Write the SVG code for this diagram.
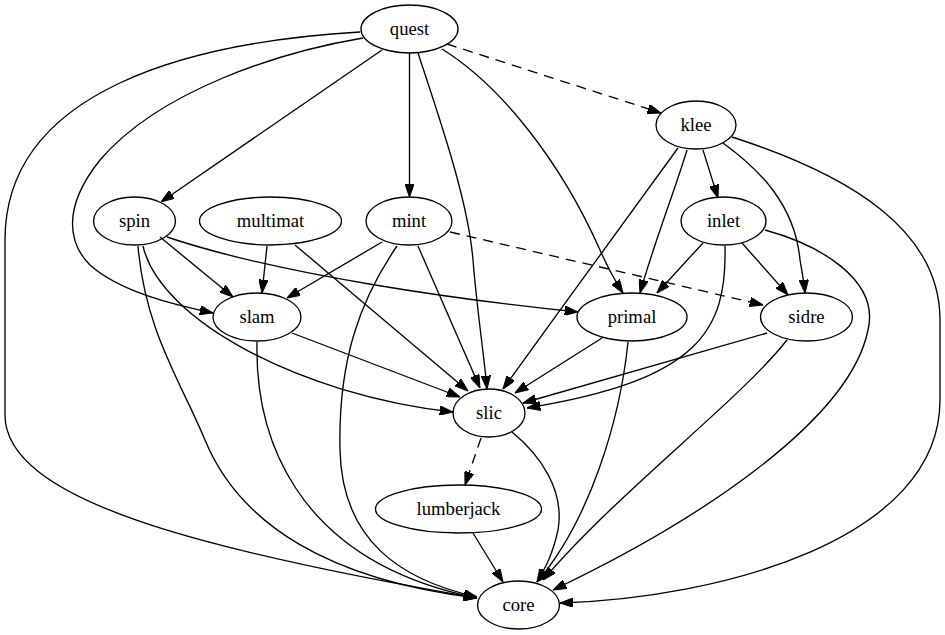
<svg xmlns="http://www.w3.org/2000/svg" width="945" height="635" viewBox="0 0 945 635">
<style>
.n ellipse{fill:none;stroke:#000;stroke-width:1.33}
.e path{fill:none;stroke:#000;stroke-width:1.33;marker-end:url(#ah)}
.e path.d{stroke-dasharray:10,7}
</style>
<defs>
<marker id="ah" viewBox="0 0 13.3 9.4" refX="13.3" refY="4.7" markerWidth="13.3" markerHeight="9.4" markerUnits="userSpaceOnUse" orient="auto">
<path d="M0,0 L13.3,4.7 L0,9.4 Z" fill="#000" stroke="#000" stroke-width="1"/>
</marker>
</defs>
<rect width="945" height="635" fill="#fff"/>
<g id="edges" class="e">
<path class="d" d="M447,44 L661,113"/>
<path d="M382,50 L161,202"/>
<path d="M409.5,53 L409.5,197"/>
<path d="M363,38 C280,52 160,90 100,160 C60,210 70,245 90,265 C120,292 175,305 213,313"/>
<path d="M418,53 C440,120 468,200 473,260 C477,310 484,355 487,389"/>
<path d="M442,49 C500,85 560,160 600,250 C608,268 615,281 623,293"/>
<path d="M360,32 C190,42 5,90 5,240 L5,415 C5,500 200,550 477,598"/>
<path d="M703,150 L718,198"/>
<path d="M678,148 C640,200 560,310 503,389"/>
<path d="M687,150 C675,190 655,240 640,293"/>
<path d="M723,143 C760,170 795,205 800,260 C802,272 804,282 805,293"/>
<path d="M732,137 C850,175 940,230 940,320 L940,400 C940,540 720,598 560,603"/>
<path d="M160,237 L233,297"/>
<path d="M167,237 C280,275 460,300 578,312"/>
<path d="M143,246 C160,320 300,395 453,412"/>
<path d="M138,246 C145,330 180,380 205,440 C240,525 330,580 477,598"/>
<path d="M267,246 L262,293"/>
<path d="M295,245 L468,391"/>
<path d="M382,242 L287,298"/>
<path d="M418,246 L480,388"/>
<path class="d" d="M450,232 L763,305"/>
<path d="M397,246 C360,300 338,360 340,450 C342,540 400,580 477,597"/>
<path d="M703,243 L657,293"/>
<path d="M742,243 L788,295"/>
<path d="M725,246 C727,330 700,380 527,408"/>
<path d="M765,230 C820,245 880,280 868,330 C850,420 700,520 553,590"/>
<path d="M292,333 L460,397"/>
<path d="M257,342 C255,430 290,560 477,598"/>
<path d="M602,338 L515,393"/>
<path d="M628,342 C620,420 590,520 537,582"/>
<path d="M767,333 L523,403"/>
<path d="M787,340 C740,400 620,490 543,580"/>
<path class="d" d="M481,438 L465,485"/>
<path d="M512,432 C540,455 565,490 558,530 C553,553 546,567 537,582"/>
<path d="M473,533 L503,582"/>
</g>
<g font-family="Liberation Serif, Times New Roman, serif" font-size="18.67" text-anchor="middle" fill="#000">
<g id="quest" class="n"><ellipse cx="409.5" cy="29" rx="48.5" ry="24"/><text x="409.5" y="34.6">quest</text></g>
<g id="klee" class="n"><ellipse cx="696" cy="125" rx="40" ry="24"/><text x="696" y="130.6">klee</text></g>
<g id="spin" class="n"><ellipse cx="134.5" cy="221" rx="41" ry="24"/><text x="134.5" y="226.6">spin</text></g>
<g id="multimat" class="n"><ellipse cx="270.5" cy="221" rx="71" ry="24"/><text x="270.5" y="226.6">multimat</text></g>
<g id="mint" class="n"><ellipse cx="409" cy="221" rx="43" ry="24"/><text x="409" y="226.6">mint</text></g>
<g id="inlet" class="n"><ellipse cx="723.5" cy="221" rx="42.5" ry="24"/><text x="723.5" y="226.6">inlet</text></g>
<g id="slam" class="n"><ellipse cx="257" cy="317" rx="44" ry="24"/><text x="257" y="322.6">slam</text></g>
<g id="primal" class="n"><ellipse cx="632" cy="317" rx="55" ry="24"/><text x="632" y="322.6">primal</text></g>
<g id="sidre" class="n"><ellipse cx="806.5" cy="317" rx="46" ry="24"/><text x="806.5" y="322.6">sidre</text></g>
<g id="slic" class="n"><ellipse cx="489" cy="413" rx="36" ry="24"/><text x="489" y="418.6">slic</text></g>
<g id="lumberjack" class="n"><ellipse cx="458.5" cy="509" rx="83" ry="24"/><text x="458.5" y="514.6">lumberjack</text></g>
<g id="core" class="n"><ellipse cx="518.5" cy="605" rx="41" ry="24"/><text x="518.5" y="610.6">core</text></g>
</g>
</svg>
